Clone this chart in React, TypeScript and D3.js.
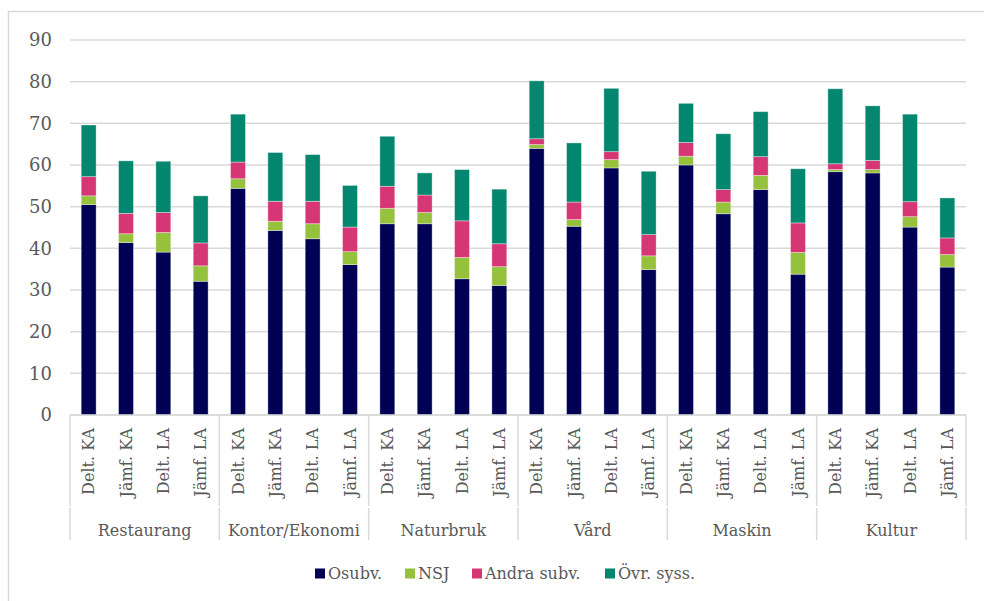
import React from "react";
import * as d3 from "d3";

const groups = ["Restaurang", "Kontor/Ekonomi", "Naturbruk", "Vård", "Maskin", "Kultur"];
const subLabels = ["Delt. KA", "Jämf. KA", "Delt. LA", "Jämf. LA"];
const seriesNames = ["Osubv.", "NSJ", "Andra subv.", "Övr. syss."];
const seriesColors = ["#000055", "#95C13D", "#D63674", "#04866F"];

// values per bar (24 bars: 6 groups x 4 sub-categories)
const osubv = [50.5, 41.4, 39.1, 32.1, 54.4, 44.3, 42.3, 36.1, 45.9, 45.9, 32.7, 31.1, 64.0, 45.3, 59.3, 34.9, 60.0, 48.3, 54.1, 33.8, 58.4, 58.1, 45.1, 35.5];
const nsj = [2.1, 2.1, 4.7, 3.7, 2.3, 2.2, 3.6, 3.1, 3.7, 2.7, 5.1, 4.5, 0.9, 1.6, 2.0, 3.3, 2.1, 2.8, 3.4, 5.2, 0.5, 0.8, 2.5, 3.0];
const andra = [4.6, 4.9, 4.8, 5.5, 4.0, 4.8, 5.4, 5.9, 5.3, 4.2, 8.8, 5.5, 1.4, 4.2, 1.9, 5.1, 3.3, 3.0, 4.5, 7.1, 1.4, 2.2, 3.6, 4.0];
const ovr = [12.4, 12.6, 12.3, 11.3, 11.5, 11.7, 11.2, 10.0, 12.0, 5.3, 12.3, 13.1, 13.9, 14.2, 15.2, 15.2, 9.4, 13.4, 10.8, 13.0, 18.0, 13.1, 21.0, 9.6];
const yTicks = [0, 10, 20, 30, 40, 50, 60, 70, 80, 90];

const W = 984;
const H = 601;
const plotLeft = 70;
const plotRight = 966;
const plotTop = 40;
const plotBottom = 415;
const font = "'DejaVu Serif', Georgia, serif";
const textColor = "#595959";

export default function App() {
  const barKeys = groups.flatMap((g, gi) => subLabels.map((s, si) => `${gi}-${si}`));
  const x = d3.scaleBand<string>().domain(barKeys).range([plotLeft, plotRight]).paddingInner(0.6).paddingOuter(0.3);
  const band = (plotRight - plotLeft) / barKeys.length;
  const y = d3.scaleLinear().domain([0, 90]).range([plotBottom, plotTop]);

  const rows = barKeys.map((k, i) => ({ key: k, s0: osubv[i], s1: nsj[i], s2: andra[i], s3: ovr[i] }));
  const stack = d3.stack<any>().keys(["s0", "s1", "s2", "s3"])(rows);

  const legendX = [315, 405, 472, 605];

  return (
    <svg width={W} height={H} style={{ position: "absolute", left: 0, top: 0 }}>
      <rect x={8.5} y={11.5} width={990} height={600} fill="#fff" stroke="#d9d9d9" strokeWidth={1.5} />
      {yTicks.map((t) => (
        <g key={t}>
          <line x1={plotLeft} x2={plotRight} y1={y(t)} y2={y(t)} stroke="#d9d9d9" strokeWidth={1.5} />
          <text x={52} y={y(t)} dy="0.35em" textAnchor="end" fontFamily={font} fontSize={18} fill={textColor}>
            {t}
          </text>
        </g>
      ))}
      {stack.map((layer, li) => (
        <g key={li} fill={seriesColors[li]}>
          {layer.map((d, i) => (
            <rect
              key={i}
              x={x(barKeys[i])}
              width={x.bandwidth()}
              y={y(d[1])}
              height={Math.max(0, y(d[0]) - y(d[1]))}
              stroke="#ffffff"
              strokeOpacity={0.45}
              strokeWidth={0.8}
            />
          ))}
        </g>
      ))}
      <line x1={plotLeft} x2={plotRight} y1={plotBottom} y2={plotBottom} stroke="#d9d9d9" strokeWidth={1.5} />
      {d3.range(groups.length + 1).map((k) => {
        const xx = plotLeft + k * 4 * band;
        return (
          <g key={k}>
            <line x1={xx} x2={xx} y1={plotBottom} y2={506} stroke="#d9d9d9" strokeWidth={1.5} />
            <line x1={xx} x2={xx} y1={508} y2={540} stroke="#d9d9d9" strokeWidth={1.5} />
          </g>
        );
      })}
      {barKeys.map((k, i) => {
        const cx = (x(k) as number) + x.bandwidth() / 2;
        return (
          <text
            key={k}
            transform={`translate(${cx},428) rotate(-90)`}
            dy="0.36em"
            textAnchor="end"
            fontFamily={font}
            fontSize={16}
            fill={textColor}
          >
            {subLabels[i % 4]}
          </text>
        );
      })}
      {groups.map((g, gi) => (
        <text
          key={g}
          x={plotLeft + (gi * 4 + 2) * band}
          y={536}
          textAnchor="middle"
          fontFamily={font}
          fontSize={16}
          fill={textColor}
        >
          {g}
        </text>
      ))}
      {seriesNames.map((n, i) => (
        <g key={n}>
          <rect x={legendX[i]} y={568.5} width={10} height={10} fill={seriesColors[i]} />
          <text x={legendX[i] + 13} y={579} fontFamily={font} fontSize={16} fill={textColor}>
            {n}
          </text>
        </g>
      ))}
    </svg>
  );
}
